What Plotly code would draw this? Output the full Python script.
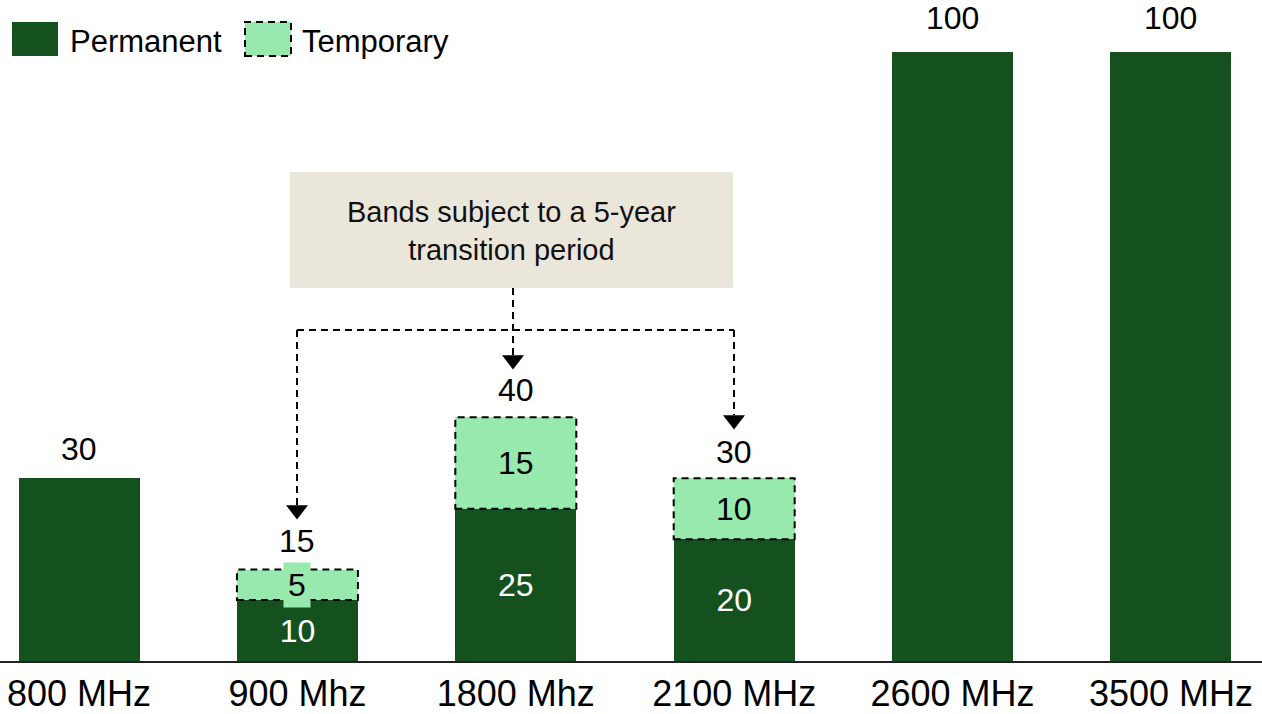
import plotly.graph_objects as go

# ---------------- data ----------------
categories = ["800 MHz", "900 Mhz", "1800 Mhz", "2100 MHz", "2600 MHz", "3500 MHz"]
permanent = [30, 10, 25, 20, 100, 100]
temporary = [0, 5, 15, 10, 0, 0]
totals = [p + t for p, t in zip(permanent, temporary)]
note_text = "Bands subject to a 5-year<br>transition period"
note_targets = [1, 2, 3]  # category indices pointed to by the note arrows

# ---------------- style ----------------
W, H = 1262, 714
PLOT_BOTTOM = 661
Y_MAX = 108.5
X_RANGE = [-0.362, 5.417]
BAR_W = 0.554
DARK = "#14511F"
LIGHT = "#98E9AD"
BEIGE = "#EBE6DA"
FONT = "Arial, Liberation Sans, sans-serif"


def xd(px):
    return X_RANGE[0] + px / W * (X_RANGE[1] - X_RANGE[0])


def yd(py):
    return (PLOT_BOTTOM - py) / PLOT_BOTTOM * Y_MAX


def xp(px):
    return px / W


def yp(py):
    return (PLOT_BOTTOM - py) / PLOT_BOTTOM


x_idx = list(range(len(categories)))

fig = go.Figure()
fig.add_trace(go.Bar(
    x=x_idx, y=permanent, width=BAR_W, name="Permanent",
    marker=dict(color=DARK, line=dict(width=0)),
    text=[str(p) if t > 0 else "" for p, t in zip(permanent, temporary)],
    textposition="inside", insidetextanchor="middle",
    textfont=dict(color="white", size=32, family=FONT),
    hoverinfo="skip",
))
fig.add_trace(go.Bar(
    x=x_idx, y=temporary, width=BAR_W, name="Temporary",
    marker=dict(color=LIGHT, line=dict(width=0)),
    hoverinfo="skip",
))

shapes = []
annotations = []

# dashed outline + labels of temporary segments
for i, (p, t) in enumerate(zip(permanent, temporary)):
    if t > 0:
        shapes.append(dict(type="rect", xref="x", yref="y",
                           x0=i - BAR_W / 2, x1=i + BAR_W / 2, y0=p, y1=p + t,
                           line=dict(color="black", width=2, dash="7px,5px"),
                           layer="above"))
        annotations.append(dict(x=i, y=p + t / 2, xref="x", yref="y", text=str(t),
                                showarrow=False, bgcolor=LIGHT, borderpad=4,
                                font=dict(size=32, color="black", family=FONT)))

# totals above bars
total_shift = [29, 29, 27, 26, 34, 34]
for i, tot in enumerate(totals):
    annotations.append(dict(x=i, y=tot, xref="x", yref="y", text=str(tot),
                            showarrow=False, yanchor="middle", yshift=total_shift[i],
                            font=dict(size=32, color="black", family=FONT)))

# note box
shapes.append(dict(type="rect", xref="x", yref="y",
                   x0=xd(290), x1=xd(733), y0=yd(288), y1=yd(172),
                   fillcolor=BEIGE, line=dict(width=0), layer="above"))
annotations.append(dict(x=xd(511), y=yd(231), xref="x", yref="y", text=note_text,
                        showarrow=False, align="center",
                        font=dict(size=29, color="#111111", family=FONT)))

# connector lines
dash = dict(color="black", width=2, dash="7px,5px")
H_LINE = 330
tips = {1: 517, 2: 367, 3: 427}
xs_px = {1: 297, 2: 513, 3: 734}
shapes.append(dict(type="line", xref="x", yref="y", x0=xd(xs_px[1]), x1=xd(xs_px[3]),
                   y0=yd(H_LINE), y1=yd(H_LINE), line=dash, layer="above"))
tri_x, tri_y = [], []
for k in note_targets:
    top = 288 if k == 2 else H_LINE
    shapes.append(dict(type="line", xref="x", yref="y", x0=xd(xs_px[k]), x1=xd(xs_px[k]),
                       y0=yd(top), y1=yd(tips[k] - 12), line=dash, layer="above"))
    tri_x.append(xd(xs_px[k]))
    tri_y.append(yd(tips[k] - 7))
fig.add_trace(go.Scatter(x=tri_x, y=tri_y, mode="markers", hoverinfo="skip",
                         marker=dict(symbol="triangle-down", size=19, color="black",
                                     line=dict(width=0)), showlegend=False))

# custom legend
shapes.append(dict(type="rect", xref="paper", yref="paper",
                   x0=xp(12), x1=xp(58), y0=yp(56), y1=yp(22),
                   fillcolor=DARK, line=dict(width=0)))
shapes.append(dict(type="rect", xref="paper", yref="paper",
                   x0=xp(245), x1=xp(291), y0=yp(56), y1=yp(22),
                   fillcolor=LIGHT, line=dict(color="black", width=2, dash="7px,5px")))
annotations.append(dict(x=xp(68), y=yp(41), xref="paper", yref="paper", text="Permanent",
                        showarrow=False, xanchor="left", yanchor="middle",
                        font=dict(size=31, color="black", family=FONT)))
annotations.append(dict(x=xp(300), y=yp(41), xref="paper", yref="paper", text="Temporary",
                        showarrow=False, xanchor="left", yanchor="middle",
                        font=dict(size=31, color="black", family=FONT)))

fig.update_layout(
    width=W, height=H,
    margin=dict(l=0, r=0, t=0, b=H - PLOT_BOTTOM, autoexpand=False),
    barmode="stack", showlegend=False,
    plot_bgcolor="white", paper_bgcolor="white",
    shapes=shapes, annotations=annotations,
    uniformtext=dict(minsize=32, mode="show"),
    xaxis=dict(range=X_RANGE, tickmode="array", tickvals=x_idx, ticktext=categories,
               showgrid=False, zeroline=False, showline=True, linecolor="#222222",
               linewidth=2, ticks="", automargin=False,
               tickfont=dict(size=36, color="black", family=FONT)),
    yaxis=dict(range=[0, Y_MAX], visible=False, showgrid=False, zeroline=False,
               automargin=False),
)

fig.write_html("out.html", config={"displayModeBar": False},
               post_script="document.body.style.margin='0px';document.body.style.overflow='hidden';")
